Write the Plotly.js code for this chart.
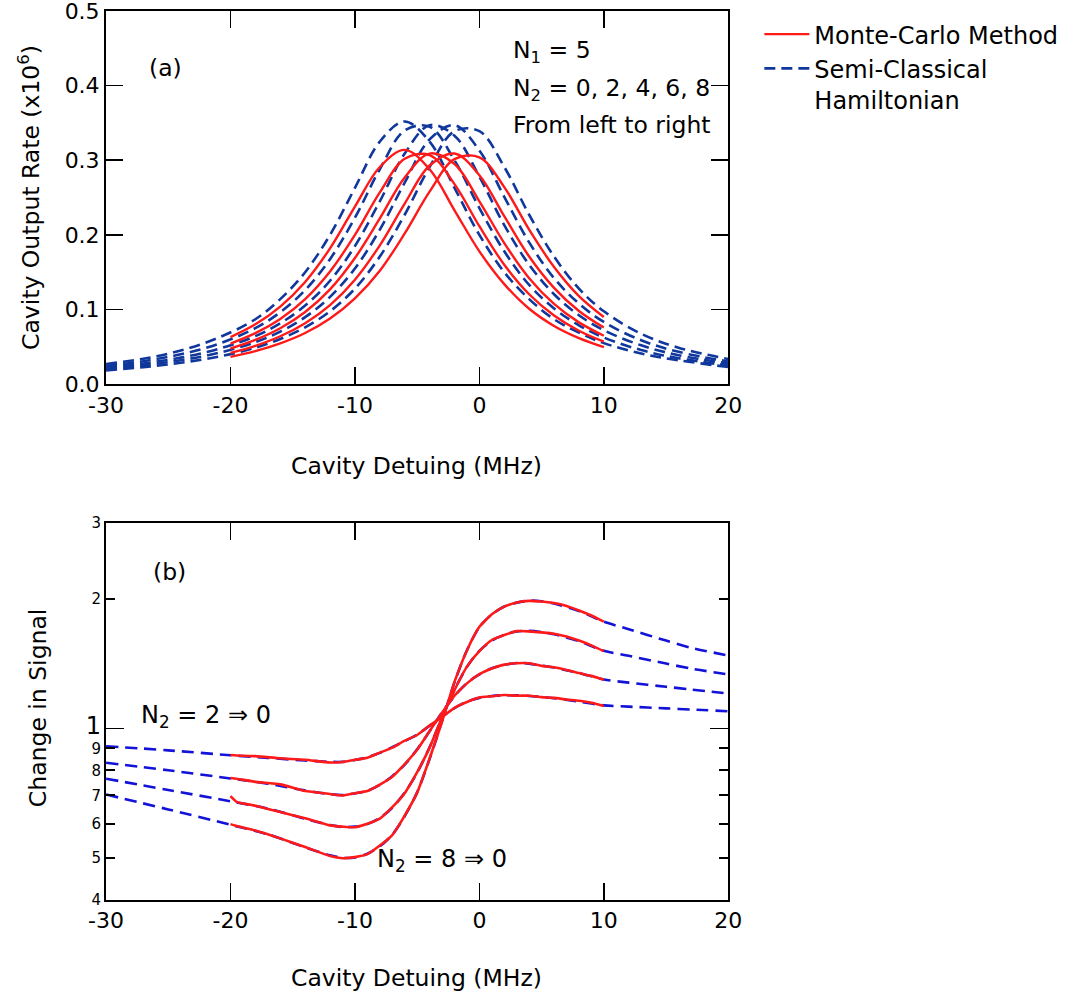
<!DOCTYPE html>
<html>
<head>
<meta charset="utf-8">
<script src="https://cdn.plot.ly/plotly-3.0.1.min.js"></script>
<style>html,body{margin:0;padding:0;background:#fff;}#chart{width:1071px;height:1003px;}</style>
</head>
<body>
<div id="chart"></div>
<script>
// ---------- Panel (a): cavity output rate ----------
const xSemi = [-30,-27,-24,-21,-18,-16,-14,-12,-10,-8,-6,-4,-2,0,2,4,6,8,10,13,16,20];
const sc0 = [0.027,0.034,0.045,0.062,0.087,0.114,0.150,0.200,0.263,0.325,0.352,0.325,0.263,0.200,0.150,0.114,0.087,0.069,0.055,0.041,0.032,0.023];
const sc2 = [0.0244,0.0308,0.0400,0.0537,0.0751,0.0963,0.126,0.1675,0.223,0.288,0.340,0.345,0.300,0.236,0.178,0.133,0.1015,0.0788,0.0625,0.0457,0.0347,0.0251];
const sc4 = [0.0222,0.0277,0.0355,0.0470,0.0644,0.0815,0.1053,0.1386,0.185,0.245,0.309,0.347,0.333,0.278,0.213,0.160,0.1205,0.0924,0.0723,0.0520,0.0388,0.0277];
const sc6 = [0.0203,0.0252,0.0320,0.0417,0.0563,0.0704,0.0898,0.117,0.155,0.207,0.270,0.328,0.347,0.313,0.251,0.190,0.142,0.108,0.0833,0.0588,0.0433,0.0304];
const sc8 = [0.0185,0.0228,0.0287,0.0367,0.0488,0.0606,0.0761,0.0976,0.128,0.171,0.227,0.291,0.339,0.339,0.291,0.227,0.171,0.128,0.0976,0.0675,0.0488,0.0336];

const xMC = [-20,-18,-16,-14,-12,-10,-8,-6,-4,-2,0,2,4,6,8,10];
const mc0 = [0.0631,0.0802,0.104,0.137,0.182,0.238,0.291,0.314,0.288,0.233,0.178,0.134,0.101,0.078,0.0617,0.0496];
const mc2 = [0.0544,0.0683,0.0874,0.114,0.151,0.200,0.257,0.302,0.307,0.268,0.2116,0.160,0.1205,0.092,0.0716,0.0569];
const mc4 = [0.0478,0.0593,0.0749,0.0967,0.127,0.169,0.222,0.277,0.309,0.295,0.245,0.189,0.142,0.1076,0.0828,0.0649];
const mc6 = [0.0419,0.0514,0.0642,0.0817,0.106,0.140,0.186,0.242,0.293,0.309,0.280,0.225,0.171,0.129,0.098,0.0758];
const mc8 = [0.0366,0.0443,0.0547,0.0686,0.088,0.115,0.152,0.202,0.258,0.3015,0.304,0.264,0.207,0.157,0.118,0.090];

// ---------- Panel (b): change in signal ----------
const xSemiB = [-30,-25,-20,-17,-14,-12,-11,-10,-9,-8,-7,-6,-5,-4,-3,-2,-1,0,1,2,3,4,5,6,8,10,12,15,17,20];
const scB2 = [0.910,0.890,0.867,0.855,0.843,0.837,0.837,0.845,0.858,0.878,0.905,0.935,0.968,1.015,1.065,1.115,1.155,1.178,1.19,1.195,1.194,1.19,1.184,1.176,1.155,1.132,1.124,1.114,1.107,1.097];
const scB4 = [0.833,0.800,0.766,0.745,0.718,0.704,0.701,0.707,0.717,0.740,0.775,0.825,0.895,0.985,1.09,1.19,1.275,1.335,1.38,1.405,1.42,1.415,1.40,1.385,1.345,1.300,1.278,1.25,1.232,1.206];
const scB6 = [0.765,0.720,0.678,0.652,0.617,0.597,0.591,0.592,0.600,0.620,0.655,0.710,0.790,0.905,1.06,1.23,1.39,1.515,1.60,1.65,1.68,1.685,1.675,1.655,1.595,1.515,1.475,1.415,1.378,1.335];
const scB8 = [0.703,0.649,0.598,0.568,0.530,0.508,0.501,0.502,0.512,0.533,0.567,0.626,0.711,0.850,1.04,1.28,1.52,1.72,1.84,1.92,1.96,1.98,1.975,1.95,1.875,1.770,1.70,1.60,1.54,1.477];

const xMCB = [-20,-19.5,-18,-16,-14,-12,-11,-10,-9,-8,-7,-6,-5,-4,-3,-2,-1,0,1,2,3,4,5,6,7,8,9,10];
const mcB2 = [0.868,0.866,0.863,0.853,0.846,0.834,0.836,0.846,0.856,0.879,0.903,0.937,0.966,1.016,1.063,1.117,1.152,1.180,1.188,1.196,1.192,1.192,1.183,1.178,1.168,1.160,1.148,1.128];
const mcB4 = [0.768,0.765,0.752,0.742,0.716,0.705,0.699,0.708,0.716,0.741,0.773,0.827,0.893,0.987,1.088,1.192,1.273,1.337,1.378,1.407,1.418,1.417,1.398,1.387,1.368,1.345,1.325,1.298];
const mcB6 = [0.697,0.676,0.662,0.640,0.619,0.596,0.592,0.590,0.601,0.618,0.657,0.708,0.792,0.903,1.062,1.228,1.392,1.512,1.605,1.648,1.683,1.681,1.672,1.66,1.635,1.60,1.56,1.512];
const mcB8 = [0.600,0.594,0.580,0.556,0.531,0.506,0.500,0.503,0.511,0.535,0.566,0.628,0.710,0.852,1.038,1.283,1.518,1.722,1.842,1.918,1.962,1.978,1.972,1.955,1.925,1.88,1.83,1.77];

const xTicks = [-30,-20,-10,0,10,20];
const xTickText = ['-30','-20','-10','0','10','20'];
const yTicksA = [0, 0.1, 0.2, 0.3, 0.4, 0.5];
const yTickTextA = ['0.0','0.1','0.2','0.3','0.4','0.5'];
const logTickVals = [0.4,0.5,0.6,0.7,0.8,0.9,1,2,3];
const logTickText = ['4','5','6','7','8','9','<span style="font-size:24px">1</span>','2','3'];

const RED = '#ff1a1a';
const BLUE_A = '#10389c';
const BLUE_B = '#1212d8';
const FONT = 'DejaVu Sans, Verdana, sans-serif';

const traces = [];
const semiA = [sc0, sc2, sc4, sc6, sc8];
semiA.forEach((y, i) => traces.push({
  x: xSemi, y: y, xaxis: 'x', yaxis: 'y', type: 'scatter', mode: 'lines',
  line: {color: BLUE_A, width: 2.6, dash: '11px,6px', shape: 'spline', smoothing: 1},
  name: 'Semi-Classical<br>Hamiltonian', legendgroup: 'sc', showlegend: i === 0, legendrank: 2, hoverinfo: 'skip'
}));
const mcA = [mc0, mc2, mc4, mc6, mc8];
mcA.forEach((y, i) => traces.push({
  x: xMC, y: y, xaxis: 'x', yaxis: 'y', type: 'scatter', mode: 'lines',
  line: {color: RED, width: 2.4, shape: 'spline', smoothing: 1},
  name: 'Monte-Carlo Method', legendgroup: 'mc', showlegend: i === 0, legendrank: 1, hoverinfo: 'skip'
}));
[scB2, scB4, scB6, scB8].forEach(y => traces.push({
  x: xSemiB, y: y, xaxis: 'x2', yaxis: 'y2', type: 'scatter', mode: 'lines',
  line: {color: BLUE_B, width: 2.6, dash: '12px,7px', shape: 'spline', smoothing: 0.8},
  legendgroup: 'sc', showlegend: false, hoverinfo: 'skip'
}));
[mcB2, mcB4, mcB6, mcB8].forEach(y => traces.push({
  x: xMCB, y: y, xaxis: 'x2', yaxis: 'y2', type: 'scatter', mode: 'lines',
  line: {color: RED, width: 2.6, shape: 'spline', smoothing: 0.5},
  legendgroup: 'mc', showlegend: false, hoverinfo: 'skip'
}));

const axBase = {
  showgrid: false, zeroline: false, showline: true, linecolor: '#000', linewidth: 2,
  mirror: 'ticks', ticks: 'inside', ticklen: 17, tickwidth: 1.6, tickcolor: '#000',
  tickfont: {family: FONT, size: 22, color: '#000'}, fixedrange: true, ticklabeloverflow: 'allow'
};

const ann = (text, x, y, extra) => Object.assign({
  text: text, x: x, y: y, xref: 'paper', yref: 'paper', showarrow: false,
  xanchor: 'left', yanchor: 'middle', font: {family: FONT, size: 23.5, color: '#000'}
}, extra || {});
const titleFont = {family: FONT, size: 23.5, color: '#000'};

const layout = {
  width: 1071, height: 1003,
  margin: {l: 0, r: 0, t: 0, b: 0},
  paper_bgcolor: '#fff', plot_bgcolor: '#fff',
  font: {family: FONT, size: 22, color: '#000'},
  showlegend: true,
  legend: {x: 0.709, y: 0.988, xanchor: 'left', yanchor: 'top', bgcolor: 'rgba(0,0,0,0)', valign: 'top',
           font: {family: FONT, size: 24, color: '#000'}, itemwidth: 45, tracegroupgap: 0},
  xaxis: Object.assign({}, axBase, {domain: [0.099, 0.680], range: [-30, 20], anchor: 'y',
          tickmode: 'array', tickvals: xTicks, ticktext: xTickText}),
  yaxis: Object.assign({}, axBase, {domain: [0.617, 0.989], range: [0, 0.5], anchor: 'x',
          tickmode: 'array', tickvals: yTicksA, ticktext: yTickTextA}),
  xaxis2: Object.assign({}, axBase, {domain: [0.099, 0.680], range: [-30, 20], anchor: 'y2',
          tickmode: 'array', tickvals: xTicks, ticktext: xTickText}),
  yaxis2: Object.assign({}, axBase, {domain: [0.1027, 0.4786], type: 'log',
          range: [Math.log10(0.4), Math.log10(3)], anchor: 'x2', ticklen: 9,
          tickmode: 'array', tickvals: logTickVals, ticktext: logTickText,
          tickfont: {family: FONT, size: 15, color: '#000'}}),
  yaxis3: {overlaying: 'y2', anchor: 'x2', type: 'log', range: [Math.log10(0.4), Math.log10(3)],
          showgrid: false, zeroline: false, showline: false, showticklabels: false,
          ticks: 'inside', ticklen: 18, tickwidth: 1.8, tickcolor: '#000', mirror: 'ticks',
          tickmode: 'array', tickvals: [1], fixedrange: true},
  annotations: [
    ann('(a)', 0.137, 0.932),
    ann('N<sub>1</sub> = 5', 0.477, 0.949),
    ann('N<sub>2</sub> = 0, 2, 4, 6, 8', 0.477, 0.911),
    ann('From left to right', 0.477, 0.875),
    ann('(b)', 0.141, 0.430),
    ann('N<sub>2</sub> = 2 \u21D2 0', 0.130, 0.286, {font: {family: FONT, size: 24, color: '#000'}}),
    ann('N<sub>2</sub> = 8 \u21D2 0', 0.350, 0.142, {font: {family: FONT, size: 24, color: '#000'}}),
    ann('Cavity Output Rate (x10<sup>6</sup>)', 0.028, 0.8036, {xanchor: 'center', textangle: -90, font: titleFont}),
    ann('Cavity Detuing (MHz)', 0.389, 0.535, {xanchor: 'center', font: titleFont}),
    ann('Cavity Detuing (MHz)', 0.389, 0.025, {xanchor: 'center', font: titleFont}),
    ann('Change in Signal', 0.0355, 0.294, {xanchor: 'center', textangle: -90, font: titleFont})
  ]
};

traces.push({x: [0], y: [1], xaxis: 'x2', yaxis: 'y3', type: 'scatter', mode: 'markers',
  marker: {opacity: 0}, showlegend: false, hoverinfo: 'skip'});

Plotly.newPlot('chart', traces, layout, {staticPlot: true, displayModeBar: false});
</script>
</body>
</html>
